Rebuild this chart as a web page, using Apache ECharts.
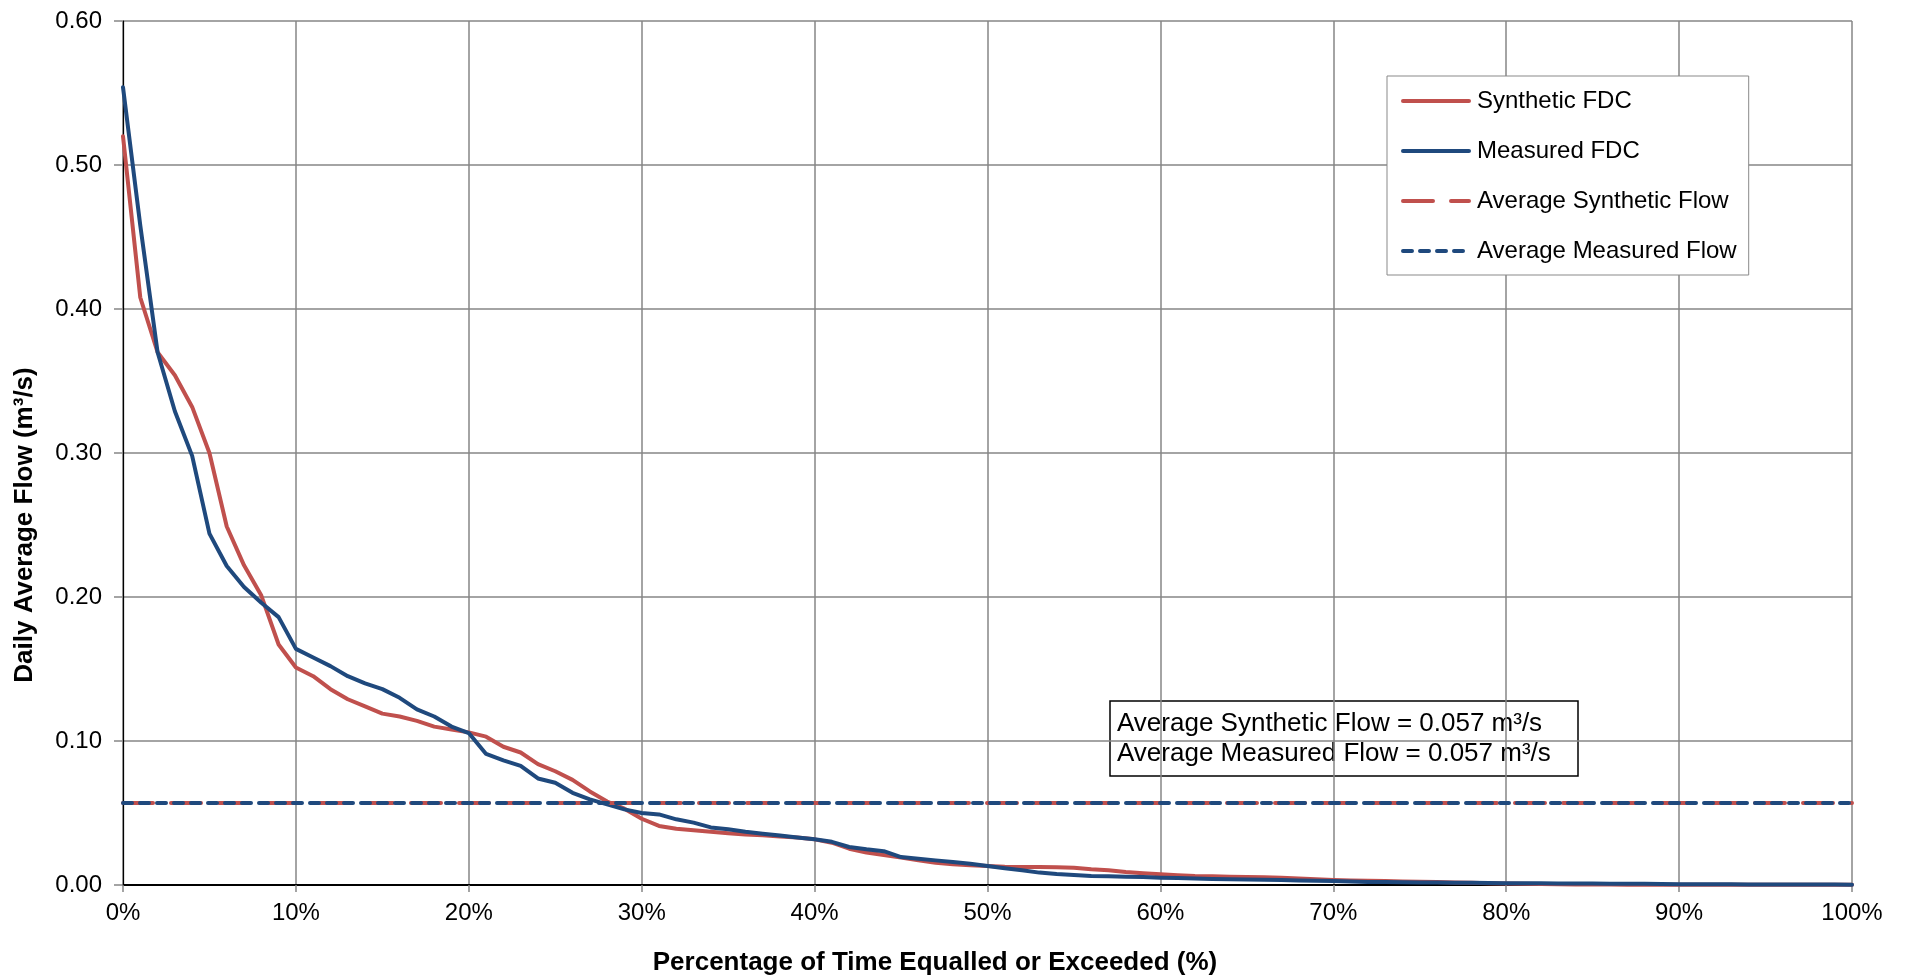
<!DOCTYPE html>
<html>
<head>
<meta charset="utf-8">
<title>Flow Duration Curves</title>
<script src="https://cdn.jsdelivr.net/npm/echarts@6/dist/echarts.min.js"></script>
<style>
  html, body { margin: 0; padding: 0; background: #ffffff; }
  #chart { width: 1908px; height: 980px; }
</style>
</head>
<body>
<div id="chart"></div>
<script>
// Percentage of time a flow is equalled or exceeded (%)
const exceedancePct = [
  0, 1, 2, 3, 4, 5, 6, 7, 8, 9,
  10, 11, 12, 13, 14, 15, 16, 17, 18, 19,
  20, 21, 22, 23, 24, 25, 26, 27, 28, 29,
  30, 31, 32, 33, 34, 35, 36, 37, 38, 39,
  40, 41, 42, 43, 44, 45, 46, 47, 48, 49,
  50, 51, 52, 53, 54, 55, 56, 57, 58, 59,
  60, 61, 62, 63, 64, 65, 66, 67, 68, 69,
  70, 71, 72, 73, 74, 75, 76, 77, 78, 79,
  80, 81, 82, 83, 84, 85, 86, 87, 88, 89,
  90, 91, 92, 93, 94, 95, 96, 97, 98, 99,
  100
];

// Synthetic flow duration curve, daily average flow (m³/s)
const syntheticFdc = [
  0.520, 0.408, 0.370, 0.354, 0.332, 0.300, 0.249, 0.222, 0.201, 0.167,
  0.151, 0.145, 0.136, 0.129, 0.124, 0.119, 0.117, 0.114, 0.110, 0.108,
  0.106, 0.103, 0.096, 0.092, 0.084, 0.079, 0.073, 0.065, 0.058, 0.053,
  0.046, 0.041, 0.039, 0.038, 0.037, 0.036, 0.035, 0.0345, 0.0336, 0.033,
  0.0317, 0.0294, 0.0252, 0.0225, 0.0208, 0.0190, 0.0171, 0.0155, 0.0144, 0.0137,
  0.0132, 0.0127, 0.0125, 0.0125, 0.0124, 0.0120, 0.0109, 0.0102, 0.0090, 0.0081,
  0.0074, 0.0067, 0.0062, 0.0060, 0.0058, 0.0056, 0.0053, 0.0050, 0.0046, 0.0040,
  0.0035, 0.0032, 0.0030, 0.0027, 0.0024, 0.0022, 0.0020, 0.0018, 0.0016, 0.0013,
  0.0011, 0.0009, 0.0007, 0.0005, 0.0004, 0.0003, 0.0003, 0.0002, 0.0002, 0.0002,
  0.0002, 0.0002, 0.0002, 0.0001, 0.0001, 0.0001, 0.0001, 0.0001, 0.0001, 0.0001,
  0.0001
];

// Measured flow duration curve, daily average flow (m³/s)
const measuredFdc = [
  0.554, 0.458, 0.370, 0.329, 0.298, 0.244, 0.2215, 0.207, 0.196, 0.186,
  0.164, 0.158, 0.152, 0.145, 0.140, 0.136, 0.130, 0.122, 0.117, 0.110,
  0.1055, 0.091, 0.0866, 0.0827, 0.074, 0.071, 0.064, 0.0595, 0.056, 0.0525,
  0.050, 0.049, 0.0456, 0.0433, 0.040, 0.0387, 0.037, 0.0356, 0.0343, 0.033,
  0.0317, 0.030, 0.0264, 0.0248, 0.0235, 0.0194, 0.0183, 0.0171, 0.0160, 0.0148,
  0.0132, 0.0116, 0.0102, 0.0086, 0.0076, 0.0069, 0.0063, 0.0060, 0.0058, 0.0056,
  0.0051, 0.0048, 0.0045, 0.0042, 0.0040, 0.0038, 0.0036, 0.0034, 0.0032, 0.0030,
  0.0028, 0.0025, 0.0021, 0.0020, 0.0019, 0.0018, 0.0017, 0.0016, 0.0015, 0.0014,
  0.0013, 0.0012, 0.0012, 0.0011, 0.0010, 0.0010, 0.0009, 0.0009, 0.0008, 0.0007,
  0.0006, 0.0006, 0.0005, 0.0005, 0.0004, 0.0004, 0.0004, 0.0003, 0.0003, 0.0003,
  0.0002
];

// Average flows (m³/s)
const avgSyntheticFlow = 0.057;
const avgMeasuredFlow = 0.057;

// Axis settings
const xTicks = { min: 0, max: 100, interval: 10 };
const yTicks = { min: 0, max: 0.6, interval: 0.1 };

const seriesNames = [
  'Synthetic FDC',
  'Measured FDC',
  'Average Synthetic Flow',
  'Average Measured Flow'
];

const RED = '#C0504D';
const BLUE = '#1F497D';
const GRID_GREY = '#868686';
const FONT = '"Liberation Sans", Arial, sans-serif';

const pair = (xs, ys) => xs.map((x, i) => [x, ys[i]]);
const flat = (v) => [[xTicks.min, v], [xTicks.max, v]];

const chart = echarts.init(document.getElementById('chart'), null, { renderer: 'canvas' });

chart.setOption({
  animation: false,
  backgroundColor: '#ffffff',
  textStyle: { fontFamily: FONT, color: '#000' },
  grid: { left: 123, right: 56, top: 21, bottom: 95, containLabel: false },
  xAxis: {
    type: 'value',
    min: xTicks.min,
    max: xTicks.max,
    interval: xTicks.interval,
    axisLine: { show: true, onZero: false, lineStyle: { color: '#000', width: 2 } },
    axisTick: { show: true, inside: false, length: 7, lineStyle: { color: GRID_GREY, width: 1.5 } },
    axisLabel: {
      margin: 16,
      fontFamily: FONT,
      fontSize: 24,
      color: '#000',
      formatter: (v) => v + '%'
    },
    splitLine: { show: true, lineStyle: { color: GRID_GREY, width: 1.5 } }
  },
  yAxis: {
    type: 'value',
    min: yTicks.min,
    max: yTicks.max,
    interval: yTicks.interval,
    axisLine: { show: true, onZero: false, lineStyle: { color: '#000', width: 1.25 } },
    axisTick: { show: true, inside: false, length: 9, lineStyle: { color: GRID_GREY, width: 1.5 } },
    axisLabel: {
      margin: 21,
      fontFamily: FONT,
      fontSize: 24,
      color: '#000',
      formatter: (v) => v.toFixed(2)
    },
    splitLine: { show: true, lineStyle: { color: GRID_GREY, width: 1.5 } }
  },
  legend: {
    orient: 'vertical',
    left: 1387,
    top: 76,
    padding: [13, 12, 12, 14],
    itemGap: 26,
    itemWidth: 66,
    itemHeight: 24,
    backgroundColor: '#ffffff',
    borderColor: '#898989',
    borderWidth: 1,
    borderRadius: 0,
    itemStyle: { opacity: 0 },
    lineStyle: { width: 4 },
    textStyle: {
      fontFamily: FONT,
      fontSize: 24,
      color: '#000',
      lineHeight: 24,
      padding: [0, 0, 0, 3]
    },
    data: seriesNames
  },
  series: [
    {
      name: seriesNames[0],
      type: 'line',
      data: pair(exceedancePct, syntheticFdc),
      symbol: 'none',
      lineStyle: { color: RED, width: 4, cap: 'round', join: 'round' },
      itemStyle: { color: RED },
      z: 2
    },
    {
      name: seriesNames[1],
      type: 'line',
      data: pair(exceedancePct, measuredFdc),
      symbol: 'none',
      lineStyle: { color: BLUE, width: 4, cap: 'round', join: 'round' },
      itemStyle: { color: BLUE },
      z: 3
    },
    {
      name: seriesNames[2],
      type: 'line',
      data: flat(avgSyntheticFlow),
      symbol: 'none',
      lineStyle: { color: RED, width: 4, type: [30, 18], cap: 'round' },
      itemStyle: { color: RED },
      z: 4
    },
    {
      name: seriesNames[3],
      type: 'line',
      data: flat(avgMeasuredFlow),
      symbol: 'none',
      lineStyle: { color: BLUE, width: 4, type: [9, 8], cap: 'round' },
      itemStyle: { color: BLUE },
      z: 5
    }
  ],
  graphic: [
    {
      type: 'text',
      x: 25,
      y: 525,
      rotation: Math.PI / 2,
      style: {
        text: 'Daily Average Flow (m³/s)',
        fontFamily: FONT,
        fontSize: 26,
        fontWeight: 'bold',
        fill: '#000',
        align: 'center',
        verticalAlign: 'middle'
      }
    },
    {
      type: 'text',
      x: 935,
      y: 963,
      style: {
        text: 'Percentage of Time Equalled or Exceeded (%)',
        fontFamily: FONT,
        fontSize: 26,
        fontWeight: 'bold',
        fill: '#000',
        align: 'center',
        verticalAlign: 'middle'
      }
    },
    {
      type: 'group',
      x: 1110,
      y: 701,
      z: 100,
      children: [
        {
          type: 'rect',
          shape: { x: 0, y: 0, width: 468, height: 75 },
          style: { fill: '#ffffff', stroke: '#000', lineWidth: 1.5 }
        },
        {
          type: 'text',
          x: 7,
          y: 38,
          style: {
            text: 'Average Synthetic Flow = ' + avgSyntheticFlow.toFixed(3) + ' m³/s\n' +
                  'Average Measured Flow = ' + avgMeasuredFlow.toFixed(3) + ' m³/s',
            fontFamily: FONT,
            fontSize: 26,
            lineHeight: 30,
            fill: '#000',
            align: 'left',
            verticalAlign: 'middle'
          }
        }
      ]
    }
  ]
});
</script>
</body>
</html>
